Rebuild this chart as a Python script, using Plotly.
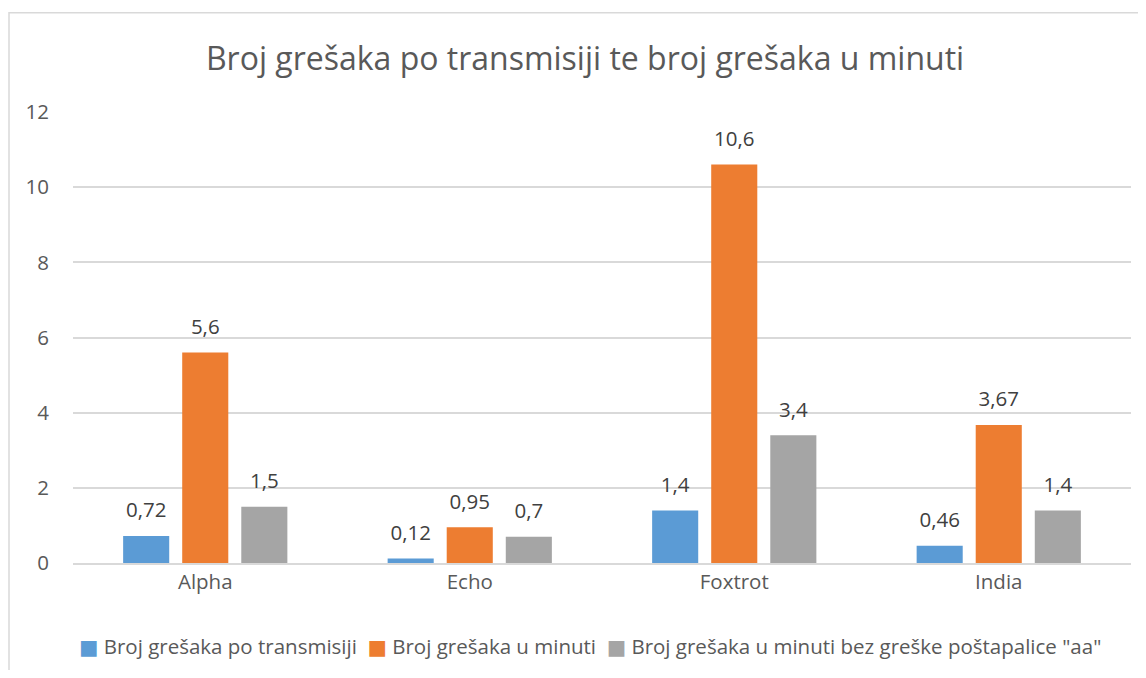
import plotly.graph_objects as go

categories = ["Alpha", "Echo", "Foxtrot", "India"]
series_names = [
    "Broj grešaka po transmisiji",
    "Broj grešaka u minuti",
    "Broj grešaka u minuti bez greške poštapalice \"aa\"",
]
errors_per_transmission = [0.72, 0.12, 1.4, 0.46]
errors_per_minute = [5.6, 0.95, 10.6, 3.67]
errors_per_minute_no_aa = [1.5, 0.7, 3.4, 1.4]
colors = ["#5B9BD5", "#ED7D31", "#A5A5A5"]
y_ticks = [0, 2, 4, 6, 8, 10, 12]

FONT = "'Open Sans', sans-serif"
FS = 20.5

def fmt(v):
    return str(v).replace(".", ",")

all_series = [errors_per_transmission, errors_per_minute, errors_per_minute_no_aa]

fig = go.Figure()
for name, vals, col in zip(series_names, all_series, colors):
    fig.add_trace(go.Bar(
        x=categories, y=vals, name=name,
        marker=dict(color=col, line=dict(width=0)),
        showlegend=False, hoverinfo="x+y+name",
    ))
# data labels (grouped scatter so they sit over their bars)
for name, vals in zip(series_names, all_series):
    fig.add_trace(go.Scatter(
        x=categories, y=vals, name=name, mode="markers+text",
        marker=dict(size=20, opacity=0),
        text=[fmt(v) for v in vals], textposition="top center",
        textfont=dict(size=FS, color="#404040", family=FONT),
        cliponaxis=False, showlegend=False, hoverinfo="skip",
    ))

# legend as a single line of text built from the series names and colours
legend_text = "&nbsp;&nbsp;".join(
    f"<span style='color:{c};font-family:DejaVu Sans'>■</span>&nbsp;{n}"
    for n, c in zip(series_names, colors)
)

W, H = 1130, 662
L, T = 65, 104
PW = 1058
fig.update_layout(
    width=W, height=H,
    margin=dict(l=L, r=7, t=T, b=107),
    paper_bgcolor="white", plot_bgcolor="white",
    barmode="group", bargap=0.33, bargroupgap=0.22,
    scattermode="group", scattergap=0.33,
    font=dict(family=FONT, color="#595959", size=FS),
    title=dict(text="Broj grešaka po transmisiji te broj grešaka u minuti",
               x=577 / W, xanchor="center", y=1 - 51 / H, yanchor="middle",
               font=dict(size=32, color="#595959", family=FONT)),
    xaxis=dict(showgrid=False, showline=True, linecolor="#D9D9D9", linewidth=1.5,
               ticks="", tickfont=dict(size=FS, color="#595959")),
    yaxis=dict(range=[0, 12], tickvals=y_ticks, showgrid=True, gridcolor="#D9D9D9",
               gridwidth=1.5, zeroline=False, showline=False, ticks="",
               tickfont=dict(size=FS, color="#595959"), ticklabelstandoff=23),
    annotations=[dict(text=legend_text, xref="paper", yref="paper",
                      x=(582 - L) / PW, xanchor="center", y=(554 - 637) / 450, yanchor="middle",
                      showarrow=False, font=dict(size=FS, color="#595959", family=FONT))],
    shapes=[dict(type="rect", xref="paper", yref="paper",
                 x0=(1 - L) / PW, x1=(1160 - L) / PW,
                 y0=(554 - 700) / 450, y1=(554 - 5) / 450,
                 line=dict(color="#D9D9D9", width=1.5), fillcolor="rgba(0,0,0,0)",
                 layer="below")],
)

fig.write_html("out.html")
